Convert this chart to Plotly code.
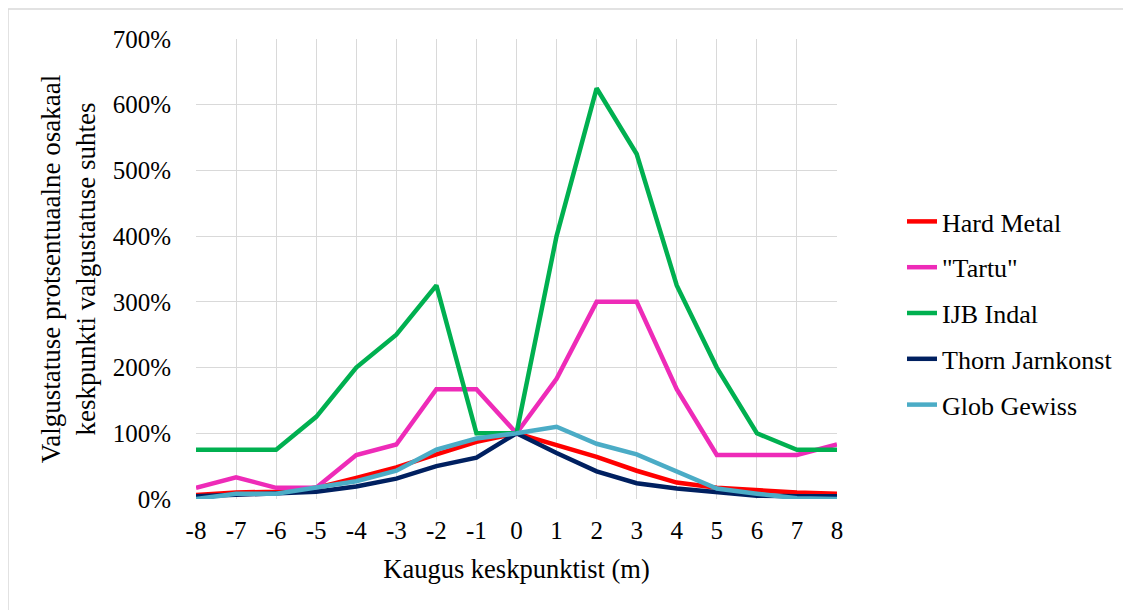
import plotly.graph_objects as go

distance = list(range(-8, 9))
tick_labels = [str(v) for v in distance]
hard_metal = [6, 10, 11, 17, 32, 48, 68, 87, 100, 82, 64, 43, 25, 17, 13, 10, 8]
tartu = [17, 33, 17, 17, 67, 83, 167, 167, 100, 183, 300, 300, 167, 67, 67, 67, 83]
ijb_indal = [75, 75, 75, 125, 200, 250, 325, 100, 100, 400, 625, 525, 325, 200, 100, 75, 75]
thorn = [4, 6, 8, 11, 19, 31, 50, 63, 100, 70, 42, 24, 16, 10, 5, 4, 4]
glob = [0, 8, 8, 17, 27, 43, 75, 92, 100, 110, 84, 68, 42, 16, 8, 1, 0]

series = [
    ("Hard Metal", hard_metal, "#FF0000"),
    ('"Tartu"', tartu, "#EE2BB8"),
    ("IJB Indal", ijb_indal, "#00B050"),
    ("Thorn Jarnkonst", thorn, "#002060"),
    ("Glob Gewiss", glob, "#4BACC6"),
]

FONT = "Liberation Serif"

fig = go.Figure()
for i, (name, vals, col) in enumerate(series):
    fig.add_trace(go.Scatter(
        x=distance, y=vals, name=name, mode="lines",
        line=dict(color=col, width=4.5),
        legendgroup=str(i),
    ))

OFF = 8  # page body margin
W, H = 1131, 610
L, T = 196 - OFF, 39 - OFF
pw, ph = 641, 460
R = W - L - pw
B = H - T - ph

def px2paper_x(px):
    return (px - OFF - L) / pw

def px2paper_y(py):
    return (T + ph - (py - OFF)) / ph

fig.update_layout(
    width=W, height=H,
    margin=dict(l=L, r=R, t=T, b=B, autoexpand=False),
    paper_bgcolor="white", plot_bgcolor="white",
    font=dict(family=FONT, size=25, color="black"),
    showlegend=True,
    legend=dict(
        x=px2paper_x(902), y=px2paper_y(198), xanchor="left", yanchor="top",
        font=dict(family=FONT, size=26, color="black"),
        tracegroupgap=9, bgcolor="rgba(0,0,0,0)",
    ),
    xaxis=dict(
        range=[-8, 8], tickmode="array", tickvals=distance, ticktext=tick_labels,
        showgrid=True, gridcolor="#D9D9D9", gridwidth=1,
        zeroline=False, showline=False, ticks="", ticklabelstandoff=14,
        tickfont=dict(family=FONT, size=25, color="black"),
        title=dict(text="Kaugus keskpunktist (m)", standoff=16,
                   font=dict(family=FONT, size=26.5, color="black")),
        automargin=False,
    ),
    yaxis=dict(
        range=[0, 700], dtick=100, ticksuffix="%",
        showgrid=True, gridcolor="#D9D9D9", gridwidth=1,
        zeroline=False, showline=False, ticks="", ticklabelstandoff=24,
        tickfont=dict(family=FONT, size=25, color="black"),
        title=dict(text="Valgustatuse protsentuaalne osakaal<br>keskpunkti valgustatuse suhtes",
                   standoff=9, font=dict(family=FONT, size=27, color="black")),
        automargin=False,
    ),
    shapes=[dict(
        type="rect", xref="paper", yref="paper",
        x0=px2paper_x(8), x1=px2paper_x(1140), y0=px2paper_y(620), y1=px2paper_y(9),
        line=dict(color="#D9D9D9", width=1.5), fillcolor="rgba(0,0,0,0)", layer="below",
    )],
)

fig.write_html("out.html")
